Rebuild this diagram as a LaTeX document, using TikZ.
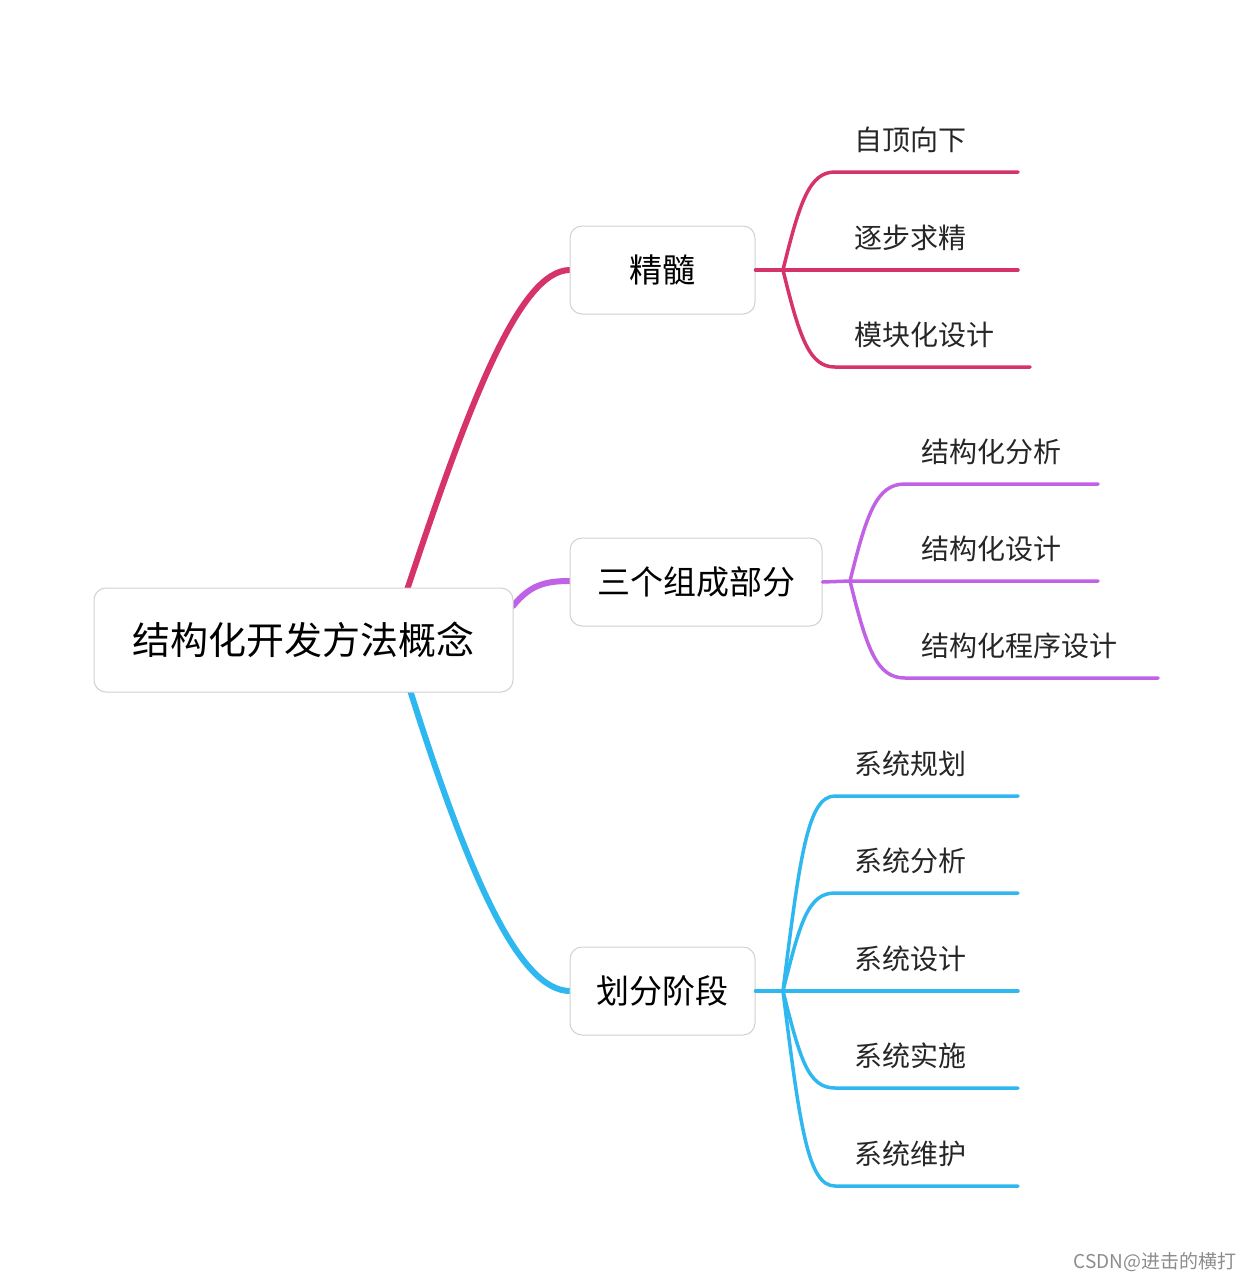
\documentclass[tikz,border=0pt]{standalone}
\usepackage{fontspec}
\setmainfont{Noto Sans CJK SC}
\begin{document}
\begin{tikzpicture}[x=1pt,y=-1pt,
 box/.style={draw=black!18,line width=1pt,rounded corners=12pt,fill=white,inner sep=0pt},
 leaf/.style={anchor=base west,font=\fontsize{28}{30}\selectfont,text=black!85},
 br/.style={line width=6pt,line cap=round},
 sb/.style={line width=3.5pt,line cap=round}]
\definecolor{pk}{HTML}{D6336C}
\definecolor{pu}{HTML}{C062E6}
\definecolor{bl}{HTML}{2FB8F0}
\useasboundingbox (0,0) rectangle (1253,1280);
% main branches
\draw[br,pk] (407,590) .. controls (470,400) and (520,270) .. (570,270);
\draw[br,pu] (513,606) .. controls (530,585) and (545,581) .. (570,581);
\draw[br,bl] (410,690) .. controls (470,880) and (520,991) .. (570,991);
% nodes
\node[box,minimum width=419pt,minimum height=104pt,font=\fontsize{38}{40}\selectfont] (root) at (303.5,640) {结构化开发方法概念};
\node[box,minimum width=185pt,minimum height=88pt,font=\fontsize{33}{35}\selectfont] (a) at (662.5,270) {精髓};
\node[box,minimum width=252pt,minimum height=88pt,font=\fontsize{33}{35}\selectfont] (b) at (696,582) {三个组成部分};
\node[box,minimum width=185pt,minimum height=88pt,font=\fontsize{33}{35}\selectfont] (c) at (662.5,991) {划分阶段};
% pink sub
\coordinate (ah) at (783,270);
\draw[sb,pk] (a.east) -- (ah) -- (1018,270);
\draw[sb,pk] (ah) .. controls (800,200) and (810,172) .. (835,172) -- (1018,172);
\draw[sb,pk] (ah) .. controls (800,340) and (810,367) .. (835,367) -- (1030,367);
\node[leaf] (a1) at (851,150) {自顶向下};
\node[leaf] (a2) at (851,248) {逐步求精};
\node[leaf] (a3) at (851,345) {模块化设计};
% purple sub
\coordinate (bh) at (850,581);
\draw[sb,pu] (b.east) -- (bh) -- (1098,581);
\draw[sb,pu] (bh) .. controls (867,512) and (877,484) .. (905,484) -- (1098,484);
\draw[sb,pu] (bh) .. controls (867,650) and (877,678) .. (905,678) -- (1158,678);
\node[leaf] (b1) at (918,462) {结构化分析};
\node[leaf] (b2) at (918,559) {结构化设计};
\node[leaf] (b3) at (918,656) {结构化程序设计};
% blue sub
\coordinate (ch) at (783,991);
\draw[sb,bl] (c.east) -- (ch) -- (1018,991);
\foreach \yy in {796,893,1088,1186}{
 \draw[sb,bl] (ch) .. controls (800,{991+(\yy-991)*0.7}) and (808,\yy) .. (835,\yy) -- (1018,\yy);
}
\node[leaf] (c1) at (851,774) {系统规划};
\node[leaf] (c2) at (851,871) {系统分析};
\node[leaf] (c3) at (851,969) {系统设计};
\node[leaf] (c4) at (851,1066) {系统实施};
\node[leaf] (c5) at (851,1164) {系统维护};
\node[anchor=base east,font=\fontsize{19}{20}\selectfont,text=black!45] (wm) at (1240,1268) {CSDN@进击的横打};
\end{tikzpicture}
\end{document}
